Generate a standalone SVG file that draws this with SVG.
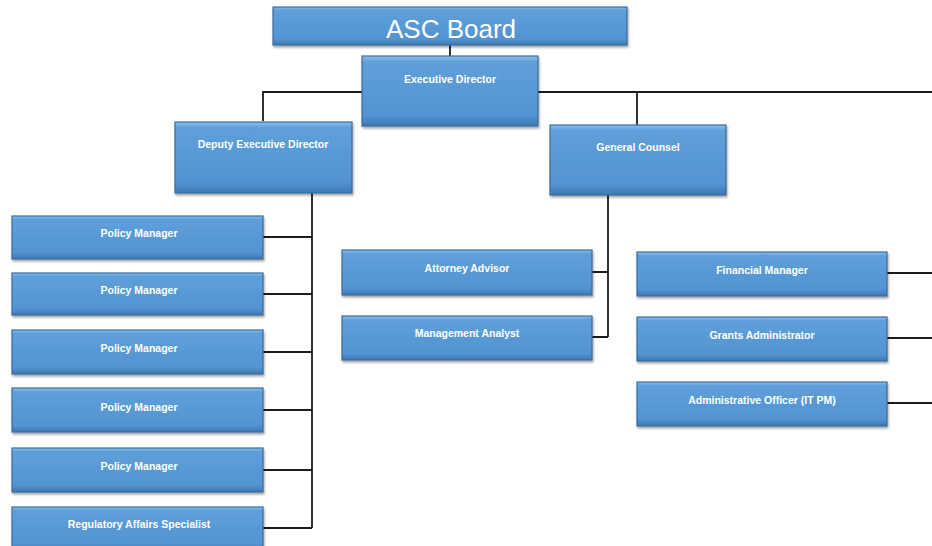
<svg xmlns="http://www.w3.org/2000/svg" width="932" height="546" viewBox="0 0 932 546">
<defs>
<linearGradient id="bev" x1="0" y1="0" x2="0" y2="1">
<stop offset="0" stop-color="#8cc0ec"/>
<stop offset="0.08" stop-color="#5fa0da"/>
<stop offset="0.85" stop-color="#5293d1"/>
<stop offset="1" stop-color="#3d77b0"/>
</linearGradient>
<filter id="sh" x="-5%" y="-10%" width="112%" height="130%">
<feDropShadow dx="1" dy="2" stdDeviation="1.2" flood-color="#000" flood-opacity="0.35"/>
</filter>
<style>
.b{fill:url(#bev);stroke:#3a6c9c;stroke-width:1.2;filter:url(#sh)}
.t{font-family:"Liberation Sans",Arial,sans-serif;font-weight:bold;font-size:10.5px;fill:#fff;text-anchor:middle}
.big{font-family:"Liberation Sans",Arial,sans-serif;font-size:26px;fill:#fff;text-anchor:middle}
.c{fill:none;stroke:#1a1a1a;stroke-width:1.8}
</style>
</defs>
<rect width="932" height="546" fill="#fff"/>
<g id="connectors">
<path class="c" d="M450 45V56"/>
<path class="c" d="M362 92H263V121"/>
<path class="c" d="M538 92H932"/>
<path class="c" d="M637 92V125"/>
<path class="c" d="M312 193V528"/>
<path class="c" d="M263 237H312M263 294H312M263 352H312M263 410H312M263 470H312M263 528H312"/>
<path class="c" d="M608 195V337M592 272H608M592 337H608"/>
<path class="c" d="M887 273H932M887 338H932M887 403H932"/>
</g>
<g id="asc-board"><rect class="b" x="273" y="7" width="354" height="38"/><text class="big" x="451" y="38">ASC Board</text></g>
<g id="executive-director"><rect class="b" x="362" y="56" width="176" height="70"/><text class="t" x="450" y="83">Executive Director</text></g>
<g id="deputy-executive-director"><rect class="b" x="175" y="122" width="177" height="71"/><text class="t" x="263" y="148">Deputy Executive Director</text></g>
<g id="general-counsel"><rect class="b" x="550" y="125" width="176" height="70"/><text class="t" x="638" y="151">General Counsel</text></g>
<g id="policy-manager-1"><rect class="b" x="12" y="216" width="251" height="43"/><text class="t" x="139" y="237">Policy Manager</text></g>
<g id="policy-manager-2"><rect class="b" x="12" y="273" width="251" height="42"/><text class="t" x="139" y="294">Policy Manager</text></g>
<g id="policy-manager-3"><rect class="b" x="12" y="330" width="251" height="44"/><text class="t" x="139" y="352">Policy Manager</text></g>
<g id="policy-manager-4"><rect class="b" x="12" y="388" width="251" height="44"/><text class="t" x="139" y="411">Policy Manager</text></g>
<g id="policy-manager-5"><rect class="b" x="12" y="448" width="251" height="44"/><text class="t" x="139" y="470">Policy Manager</text></g>
<g id="regulatory-affairs-specialist"><rect class="b" x="12" y="507" width="251" height="44"/><text class="t" x="139" y="528">Regulatory Affairs Specialist</text></g>
<g id="attorney-advisor"><rect class="b" x="342" y="250" width="250" height="45"/><text class="t" x="467" y="272">Attorney Advisor</text></g>
<g id="management-analyst"><rect class="b" x="342" y="316" width="250" height="44"/><text class="t" x="467" y="337">Management Analyst</text></g>
<g id="financial-manager"><rect class="b" x="637" y="252" width="250" height="44"/><text class="t" x="762" y="274">Financial Manager</text></g>
<g id="grants-administrator"><rect class="b" x="637" y="317" width="250" height="44"/><text class="t" x="762" y="339">Grants Administrator</text></g>
<g id="administrative-officer"><rect class="b" x="637" y="382" width="250" height="44"/><text class="t" x="762" y="404">Administrative Officer (IT PM)</text></g>
</svg>
